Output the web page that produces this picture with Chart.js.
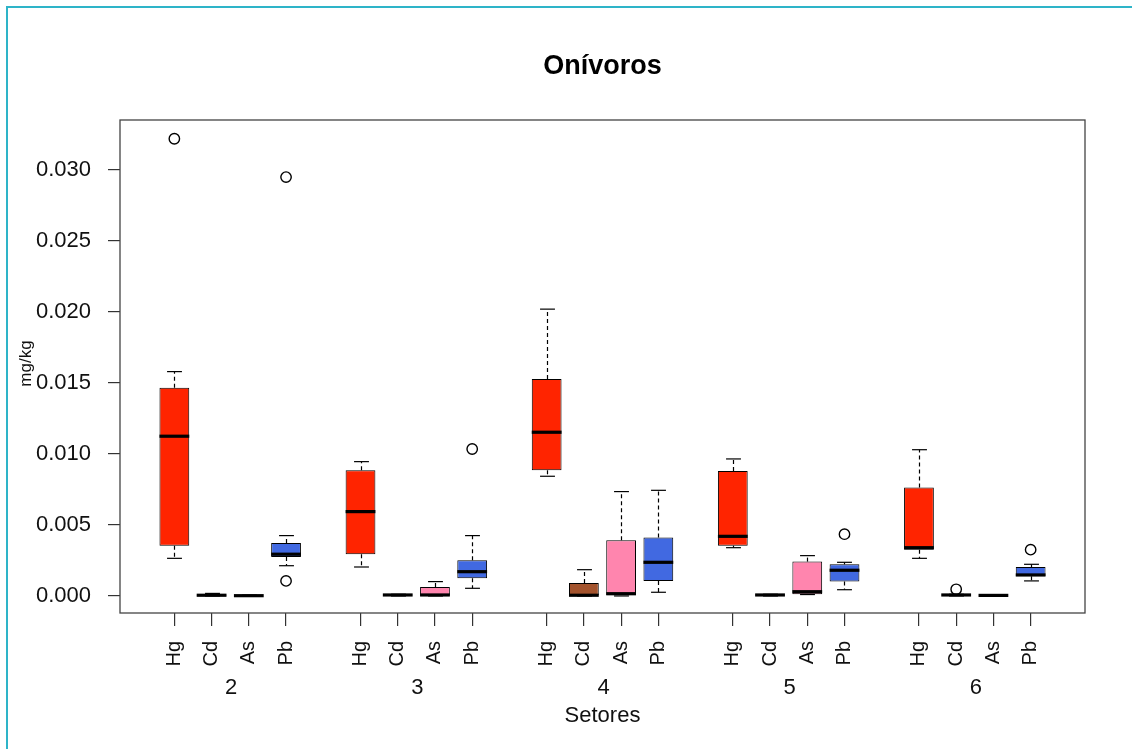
<!DOCTYPE html>
<html><head><meta charset="utf-8">
<script src="https://cdn.jsdelivr.net/npm/chart.js@4.4.1/dist/chart.umd.min.js"></script>
<style>html,body{margin:0;padding:0;background:#fff;} canvas{display:block;}</style>
</head><body>
<canvas id="c" width="1132" height="749"></canvas>
<script>
// ---- data ----
const sectors = ['2', '3', '4', '5', '6'];
const elements = ['Hg', 'Cd', 'As', 'Pb'];
// box order: sector 2 (Hg, Cd, As, Pb), sector 3 (...), ... sector 6
const boxPositions = [1, 2, 3, 4, 6, 7, 8, 9, 11, 12, 13, 14, 16, 17, 18, 19, 21, 22, 23, 24];
const boxLabels = sectors.flatMap(() => elements);
const whiskerLow = [0.00265, 0.00000, 0.00000, 0.00213,
                    0.00204, 0.00000, 0.00000, 0.00054,
                    0.00843, 0.00000, 0.00000, 0.00026,
                    0.00340, 0.00000, 0.00010, 0.00044,
                    0.00265, 0.00000, 0.00000, 0.00106];
const q1 =         [0.00354, 0.00002, 0.00000, 0.00275,
                    0.00294, 0.00003, 0.00002, 0.00125,
                    0.00885, 0.00000, 0.00000, 0.00106,
                    0.00354, 0.00003, 0.00012, 0.00101,
                    0.00326, 0.00003, 0.00000, 0.00139];
const medians =    [0.01125, 0.00005, 0.00002, 0.00294,
                    0.00594, 0.00007, 0.00007, 0.00171,
                    0.01153, 0.00005, 0.00016, 0.00237,
                    0.00420, 0.00007, 0.00030, 0.00181,
                    0.00340, 0.00007, 0.00004, 0.00148];
const q3 =         [0.01467, 0.00010, 0.00004, 0.00373,
                    0.00885, 0.00010, 0.00063, 0.00251,
                    0.01528, 0.00092, 0.00392, 0.00411,
                    0.00880, 0.00010, 0.00242, 0.00223,
                    0.00763, 0.00010, 0.00006, 0.00204];
const whiskerHigh= [0.01580, 0.00018, 0.00006, 0.00425,
                    0.00946, 0.00012, 0.00101, 0.00425,
                    0.02020, 0.00185, 0.00735, 0.00744,
                    0.00965, 0.00012, 0.00284, 0.00237,
                    0.01030, 0.00012, 0.00008, 0.00223];
const outlierBox =    [0, 3, 3, 7, 15, 17, 19];
const outlierValues = [0.0322, 0.0295, 0.00106, 0.01035, 0.00435, 0.00047, 0.00326];
const yTickValues = [0, 0.005, 0.010, 0.015, 0.020, 0.025, 0.030];
const elementColors = { Hg: '#FF2400', Cd: '#A3532D', As: '#FF85AE', Pb: '#4169E1' };

// ---- chart ----
Chart.defaults.font.family = "'Liberation Sans', Arial, sans-serif";
Chart.defaults.color = '#111';

const boxExtras = {
  id: 'boxExtras',
  beforeDraw(chart) {
    const ctx = chart.ctx;
    ctx.save();
    ctx.fillStyle = '#fff';
    ctx.fillRect(0, 0, chart.width, chart.height);
    ctx.fillStyle = '#2EB4C8';
    ctx.fillRect(6, 6, chart.width - 6, 2);
    ctx.fillRect(6, 6, 2, chart.height - 6);
    ctx.restore();
  },
  afterDatasetsDraw(chart) {
    const ctx = chart.ctx;
    const ys = chart.scales.y, xs = chart.scales.x;
    const meta = chart.getDatasetMeta(0);
    ctx.save();
    ctx.strokeStyle = '#000';
    const line = (x1, y1, x2, y2) => { ctx.beginPath(); ctx.moveTo(x1, y1); ctx.lineTo(x2, y2); ctx.stroke(); };
    meta.data.forEach((bar, i) => {
      const x = Math.round(bar.x) + 0.5, w = bar.width;
      const yLo = ys.getPixelForValue(whiskerLow[i]);
      const yQ1 = ys.getPixelForValue(q1[i]);
      const yMed = ys.getPixelForValue(medians[i]);
      const yQ3 = ys.getPixelForValue(q3[i]);
      const yHi = ys.getPixelForValue(whiskerHigh[i]);
      ctx.lineWidth = 1.2;
      ctx.setLineDash([4, 3]);
      if (yQ3 - yHi > 1) line(x, yQ3, x, yHi);
      if (yLo - yQ1 > 1) line(x, yQ1, x, yLo);
      ctx.setLineDash([]);
      line(x - w / 4, yHi, x + w / 4, yHi);
      line(x - w / 4, yLo, x + w / 4, yLo);
      ctx.lineWidth = 3.2;
      line(bar.x - w / 2, yMed, bar.x + w / 2, yMed);
    });
    // plot frame
    const a = chart.chartArea;
    ctx.lineWidth = 1.3;
    ctx.strokeStyle = '#444';
    ctx.strokeRect(a.left, a.top, a.right - a.left, a.bottom - a.top);
    // group labels
    ctx.fillStyle = '#111';
    ctx.textAlign = 'center';
    ctx.textBaseline = 'middle';
    ctx.font = "22px 'Liberation Sans', Arial, sans-serif";
    sectors.forEach((s, k) => {
      const first = boxPositions[k * 4], last = boxPositions[k * 4 + 3];
      ctx.fillText(s, xs.getPixelForValue((first + last) / 2) + 1, 688);
    });
    ctx.fillText('Setores', (a.left + a.right) / 2, 716);
    ctx.font = "17px 'Liberation Sans', Arial, sans-serif";
    ctx.translate(26, (a.top + a.bottom) / 2 - 3);
    ctx.rotate(-Math.PI / 2);
    ctx.fillText('mg/kg', 0, 0);
    ctx.restore();
  }
};

new Chart(document.getElementById('c'), {
  type: 'bar',
  data: {
    datasets: [
      {
        label: 'box',
        data: boxPositions.map((p, i) => ({ x: p, y: [q1[i], q3[i]] })),
        backgroundColor: boxLabels.map(e => elementColors[e]),
        borderColor: '#000',
        borderWidth: 1,
        borderSkipped: false,
        barPercentage: 1,
        categoryPercentage: 0.8,
        order: 2
      },
      {
        type: 'scatter',
        label: 'outliers',
        data: outlierBox.map((b, k) => ({ x: boxPositions[b], y: outlierValues[k] })),
        pointRadius: 5.2,
        pointBorderWidth: 1.4,
        borderColor: '#000',
        backgroundColor: 'rgba(0,0,0,0)',
        order: 1
      }
    ]
  },
  options: {
    responsive: false,
    animation: false,
    events: [],
    layout: { padding: { left: 0, right: 47, top: 0, bottom: 0 } },
    plugins: {
      legend: { display: false },
      tooltip: { enabled: false },
      title: {
        display: true,
        fullSize: false,
        text: 'Onívoros',
        color: '#000',
        font: { size: 27, weight: 'bold' },
        padding: { top: 50, bottom: 37.6 }
      }
    },
    scales: {
      x: {
        type: 'linear',
        min: -0.46, max: 25.46,
        offset: false,
        afterFit: s => { s.height = 136; },
        afterBuildTicks: s => { s.ticks = boxPositions.map(v => ({ value: v })); },
        grid: { display: true, offset: false, drawOnChartArea: false, drawTicks: true, tickLength: 13, tickColor: '#333', lineWidth: 1.2 },
        border: { display: false },
        ticks: {
          autoSkip: false, minRotation: 90, maxRotation: 90, padding: 15,
          font: { size: 20 }, color: '#111',
          callback: (v, i) => boxLabels[i]
        }
      },
      y: {
        min: -0.0012, max: 0.03352,
        afterFit: s => { s.width = 120; },
        afterBuildTicks: s => { s.ticks = yTickValues.map(v => ({ value: v })); },
        grid: { display: true, drawOnChartArea: false, drawTicks: true, tickLength: 12, tickColor: '#333', lineWidth: 1.2 },
        border: { display: false },
        ticks: { autoSkip: false, padding: 17, font: { size: 22 }, color: '#111', callback: v => v.toFixed(3) }
      }
    }
  },
  plugins: [boxExtras]
});
</script>
</body></html>
